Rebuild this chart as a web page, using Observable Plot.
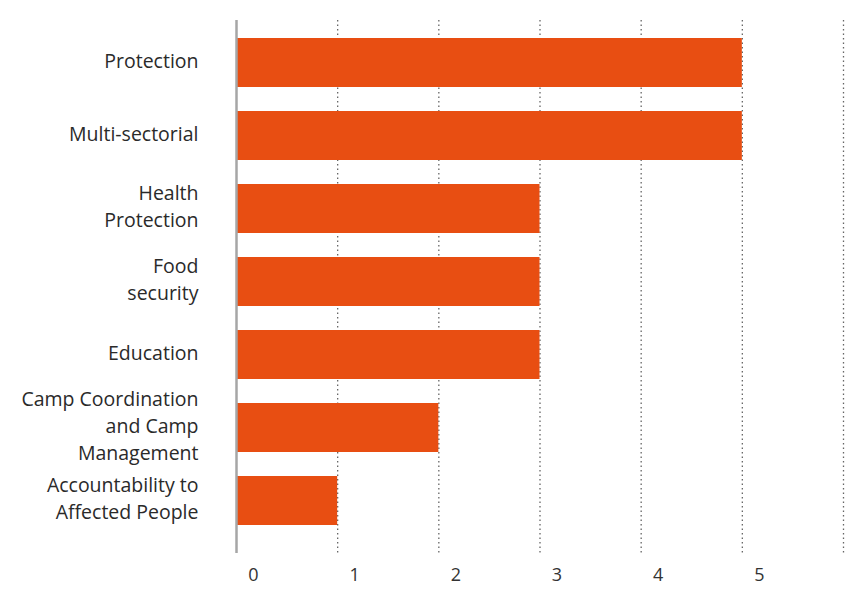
<!DOCTYPE html>
<html><head><meta charset="utf-8">
<script src="https://cdn.jsdelivr.net/npm/d3@7"></script>
<script src="https://cdn.jsdelivr.net/npm/@observablehq/plot@0.6"></script>
<style>body{margin:0;background:#fff;} svg{font-family:"Open Sans",Lato,sans-serif;}</style>
</head><body><div id="chart"></div>
<script>
const categories = ["Protection","Multi-sectorial","Health\nProtection","Food\nsecurity","Education","Camp Coordination\nand Camp\nManagement","Accountability to\nAffected People"];
const values = [5,5,3,3,3,2,1];
const xTicks = [0,1,2,3,4,5];
const gridTicks = [1,2,3,4,5,6];
const data = categories.map((c,i)=>({category:c, value:values[i]}));
const chart = Plot.plot({
  width: 847, height: 589,
  marginLeft: 236, marginRight: 4, marginTop: 13, marginBottom: 39,
  style: {fontSize: "18px", color: "#333", background: "#fff"},
  x: {domain: [0,6]},
  y: {domain: categories, padding: 0.33},
  marks: [
    Plot.ruleX(gridTicks, {stroke: "#666", strokeDasharray: "1.5,3", strokeWidth: 1.3, strokeOpacity: 1, insetTop: 7, insetBottom: -3}),
    Plot.barX(data, {y: "category", x: "value", fill: "#E84E12"}),
    Plot.ruleX([0], {stroke: "#a6a6a6", strokeWidth: 2.5, insetTop: 7, insetBottom: -3}),
    Plot.axisX({ticks: xTicks, tickSize: 0, tickPadding: 18, dx: 17, tickFormat: d3.format("d"), fontSize: 18, fill: "#333", label: null}),
    Plot.axisY({tickSize: 0, tickPadding: 38, dy: -4, fontSize: 19.5, lineHeight: 1.38, fill: "#2a2a2a", label: null})
  ]
});
document.getElementById("chart").append(chart);
</script></body></html>
